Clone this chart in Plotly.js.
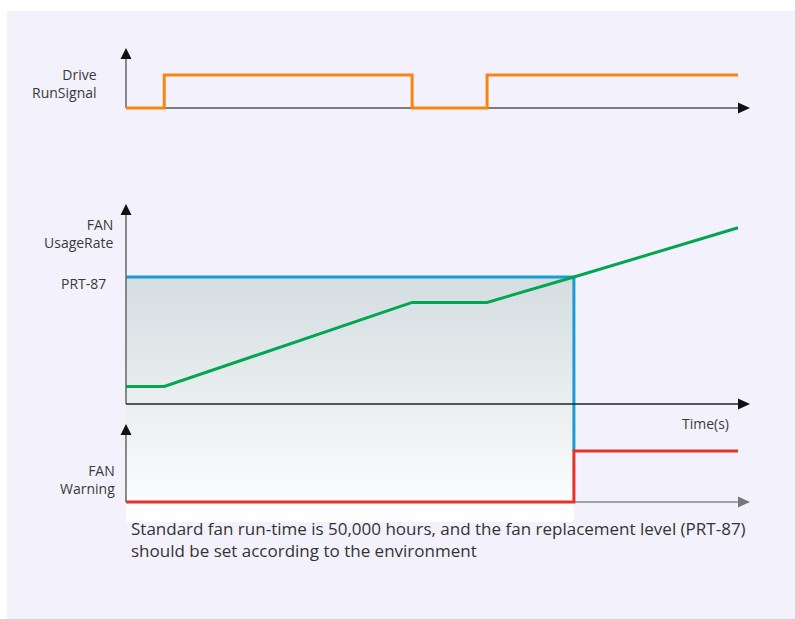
<!DOCTYPE html>
<html>
<head>
<meta charset="utf-8">
<script src="https://cdn.plot.ly/plotly-3.0.1.min.js"></script>
<style>html,body{margin:0;padding:0;background:#fff;}#chart{width:795px;height:619px;}</style>
</head>
<body>
<div id="chart"></div>
<script>
// ---- data ----
var driveTime   = [0, 1, 7.48, 9.44, 16];
var driveSignal = [0, 1, 0, 1, 1];

var usageTime = [0, 1, 7.48, 9.44, 11.71, 16];
var usageRate = [11, 11, 64, 64, 80, 111];

var prt87Level = 80;       // fan replacement level (PRT-87), %
var tripTime   = 11.71;    // time at which usage reaches PRT-87

var warnTime   = [0, 11.71, 16];
var warnSignal = [0, 1, 1];

var labels = {
  drive: ['Drive', 'RunSignal'],
  usage: ['FAN', 'UsageRate'],
  prt: 'PRT-87',
  warn: ['FAN', 'Warning'],
  time: 'Time(s)',
  note: ['Standard fan run-time is 50,000 hours, and the fan replacement level (PRT-87)',
         'should be set according to the environment']
};

// ---- geometry (pixels) ----
var W = 795, H = 619;
var X0 = 126, PX_PER_T = 38.25;
function px(x){ return x / W; }
function py(y){ return 1 - y / H; }
function yRange(zeroPx, unitPx){ return [(zeroPx - H) / unitPx, zeroPx / unitPx]; }
var driveZero = 108, driveUnit = 33;
var usageZero = 404, usageUnit = 127 / 80;
var warnZero = 502, warnUnit = 51;
function usageAtPx(p){ return (usageZero - p) / usageUnit; }
var boxBottom = usageAtPx(522);
var blueBottom = usageAtPx(warnZero - warnUnit * 1);

var ORANGE = '#f7850f', GREEN = '#00a651', BLUE = '#1b9bd7', RED = '#e5332a';

var traces = [
  { x: [0, tripTime, tripTime, 0, 0], y: [prt87Level, prt87Level, boxBottom, boxBottom, prt87Level],
    yaxis: 'y2', mode: 'lines', fill: 'toself', line: {width: 0},
    fillgradient: {type: 'vertical', colorscale: [[0, '#ffffff'], [1, '#d4dde0']]},
    hoverinfo: 'skip', showlegend: false },
  { x: driveTime, y: driveSignal, yaxis: 'y', mode: 'lines', line: {color: ORANGE, width: 3, shape: 'hv'}, showlegend: false },
  { x: [0, tripTime, tripTime], y: [prt87Level, prt87Level, blueBottom], yaxis: 'y2', mode: 'lines', line: {color: BLUE, width: 3}, showlegend: false },
  { x: usageTime, y: usageRate, yaxis: 'y2', mode: 'lines', line: {color: GREEN, width: 3}, showlegend: false },
  { x: warnTime, y: warnSignal, yaxis: 'y3', mode: 'lines', line: {color: RED, width: 3, shape: 'hv'}, showlegend: false }
];

function hline(y, x1, x2, color, w, layer){
  return {type: 'line', xref: 'paper', yref: 'paper', x0: px(x1), x1: px(x2), y0: py(y), y1: py(y),
          line: {color: color, width: w}, layer: layer || 'below'};
}
function vline(x, y1, y2, color, w, layer){
  return {type: 'line', xref: 'paper', yref: 'paper', x0: px(x), x1: px(x), y0: py(y1), y1: py(y2),
          line: {color: color, width: w}, layer: layer || 'below'};
}
function upArrow(x, tip, color, layer){
  var p = 'M' + px(x) + ',' + py(tip) + ' L' + px(x - 5.5) + ',' + py(tip + 11) + ' L' + px(x + 5.5) + ',' + py(tip + 11) + ' Z';
  return {type: 'path', xref: 'paper', yref: 'paper', path: p, fillcolor: color, line: {width: 0}, layer: layer || 'below'};
}
function rightArrow(y, tip, color, layer){
  var p = 'M' + px(tip) + ',' + py(y) + ' L' + px(tip - 12) + ',' + py(y - 5.5) + ' L' + px(tip - 12) + ',' + py(y + 5.5) + ' Z';
  return {type: 'path', xref: 'paper', yref: 'paper', path: p, fillcolor: color, line: {width: 0}, layer: layer || 'below'};
}

var shapes = [
  {type: 'rect', xref: 'paper', yref: 'paper', x0: px(7), x1: px(W), y0: py(11), y1: py(H), fillcolor: '#f3f2fc', line: {width: 0}, layer: 'below'},
  // top panel axes
  vline(X0, 108, 56, '#666666', 1.5), upArrow(X0, 48, '#111111'),
  hline(108, X0, 740, '#555555', 1.5), rightArrow(108, 750, '#111111'),
  // middle panel axes
  vline(X0, 404, 212, '#666666', 1.5, 'above'), upArrow(X0, 204, '#111111', 'above'),
  hline(404, X0, 740, '#222222', 1.5, 'above'), rightArrow(404, 750, '#111111', 'above'),
  // bottom panel axes
  vline(X0, 502, 432, '#666666', 1.5, 'above'), upArrow(X0, 424, '#111111', 'above'),
  hline(502, 574, 740, '#888888', 1.5), rightArrow(502, 750, '#777777')
];

var TXT = {family: 'Open Sans, Noto Sans, sans-serif', size: 14, color: '#3a3a3a'};
function label(text, xr, y, anchor){
  return {text: text, xref: 'paper', yref: 'paper', x: px(xr), y: py(y), xanchor: anchor || 'right', yanchor: 'middle',
          align: anchor || 'right', showarrow: false, font: TXT};
}
var annotations = [
  label(labels.drive.join('<br>'), 99, 83.5),
  label(labels.usage.join('<br>'), 116, 233.5),
  label(labels.prt, 108, 283),
  label(labels.warn.join('<br>'), 117, 479.5),
  label(labels.time, 680, 423, 'left'),
  {text: labels.note.join('<br>'), xref: 'paper', yref: 'paper', x: px(129), y: py(539), xanchor: 'left', yanchor: 'middle',
   align: 'left', showarrow: false,
   font: {family: 'Open Sans, Noto Sans, sans-serif', size: 17, color: '#333333'}}
];

var axisBase = {visible: false, fixedrange: true, showgrid: false, zeroline: false};
var layout = {
  width: W, height: H,
  margin: {l: 0, r: 0, t: 0, b: 0, pad: 0},
  paper_bgcolor: '#ffffff', plot_bgcolor: 'rgba(0,0,0,0)',
  showlegend: false,
  xaxis: Object.assign({}, axisBase, {domain: [0, 1], range: [-X0 / PX_PER_T, (W - X0) / PX_PER_T]}),
  yaxis: Object.assign({}, axisBase, {domain: [0, 1], range: yRange(driveZero, driveUnit)}),
  yaxis2: Object.assign({}, axisBase, {domain: [0, 1], overlaying: 'y', range: yRange(usageZero, usageUnit)}),
  yaxis3: Object.assign({}, axisBase, {domain: [0, 1], overlaying: 'y', range: yRange(warnZero, warnUnit)}),
  shapes: shapes,
  annotations: annotations
};

Plotly.newPlot('chart', traces, layout, {staticPlot: true, displayModeBar: false});
</script>
</body>
</html>
